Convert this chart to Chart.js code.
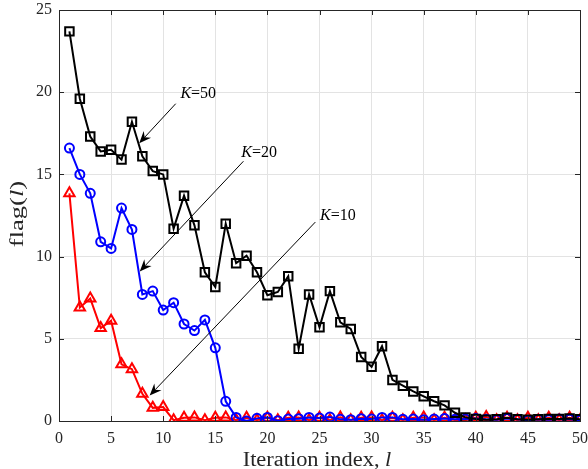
<!DOCTYPE html>
<html>
<head>
<meta charset="utf-8">
<script src="https://cdn.jsdelivr.net/npm/chart.js@4.4.1/dist/chart.umd.min.js"></script>
<style>
  html, body { margin: 0; padding: 0; background: #fff; }
  #wrap { width: 588px; height: 469px; }
</style>
</head>
<body>
<div id="wrap"><canvas id="flagChart"></canvas></div>
<script>
// Data
const iterations = Array.from({ length: 50 }, (_, i) => i + 1);

const flagK50 = [
    23.7, 19.6, 17.3, 16.4, 16.5, 15.9, 18.2, 16.1, 15.2, 15.0,
    11.7, 13.7, 11.9, 9.05, 8.15, 12.0, 9.6, 10.05, 9.05, 7.65,
    7.85, 8.8, 4.4, 7.7, 5.7, 7.9, 6.0, 5.6, 3.9, 3.3,
    4.55, 2.5, 2.15, 1.8, 1.5, 1.2, 0.95, 0.5, 0.22, 0.12,
    0.08, 0.1, 0.2, 0.1, 0.08, 0.1, 0.12, 0.12, 0.15, 0.1
];

const flagK20 = [
    16.6, 15.0, 13.85, 10.9, 10.5, 12.95, 11.65, 7.7, 7.9, 6.75,
    7.2, 5.9, 5.5, 6.15, 4.45, 1.2, 0.22, 0.0, 0.16, 0.22,
    0.02, 0.12, 0.14, 0.22, 0.18, 0.24, 0.1, 0.08, 0.14, 0.12,
    0.22, 0.22, 0.1, 0.12, 0.08, 0.12, 0.15, 0.1, 0.12, 0.15,
    0.1, 0.08, 0.15, 0.1, 0.05, 0.1, 0.08, 0.12, 0.1, 0.05
];

const flagK10 = [
    13.85, 6.9, 7.45, 5.65, 6.1, 3.45, 3.15, 1.65, 0.8, 0.85,
    0.05, 0.2, 0.22, 0.05, 0.2, 0.22, 0.05, 0.2, 0.05, 0.2,
    0.05, 0.2, 0.22, 0.05, 0.2, 0.05, 0.22, 0.05, 0.2, 0.22,
    0.05, 0.2, 0.05, 0.2, 0.22, 0.05, 0.2, 0.05, 0.05, 0.2,
    0.25, 0.05, 0.2, 0.05, 0.2, 0.05, 0.2, 0.05, 0.2, 0.05
];

const xTickValues = [0, 5, 10, 15, 20, 25, 30, 35, 40, 45, 50];
const yTickValues = [0, 5, 10, 15, 20, 25];

// Annotation labels: text anchor and arrow (tail -> tip) in data units
const noteLabels = ['50', '20', '10'];
const noteTextAt = [[11.65, 19.63], [17.5, 16.07], [25.05, 12.2]];
const noteArrowFrom = [[11.2, 19.3], [17.7, 15.8], [24.6, 12.1]];
const noteArrowTo = [[7.7, 16.9], [7.75, 9.1], [8.7, 1.55]];

const SERIF = '"Liberation Serif", "DejaVu Serif", serif';
const AXIS_COLOR = '#262626';

function toPoints(values) {
    return values.map((v, i) => ({ x: iterations[i], y: v }));
}

// draws mixed upright/italic pieces centred on (0,0), stretched along the text
function drawTitle(ctx, parts, size, stretch) {
    let total = 0;
    parts.forEach(p => { ctx.font = p[1] + size + 'px ' + SERIF; total += ctx.measureText(p[0]).width; });
    ctx.scale(stretch, 1);
    let x = -total / 2;
    parts.forEach(p => {
        ctx.font = p[1] + size + 'px ' + SERIF;
        ctx.fillText(p[0], x, 0);
        x += ctx.measureText(p[0]).width;
    });
}

// Draw frame, inward ticks, axis titles and arrow notes
const decorPlugin = {
    id: 'decor',
    afterDatasetsDraw(chart) {
        const ctx = chart.ctx;
        const area = chart.chartArea;
        const xs = chart.scales.x;
        const ys = chart.scales.y;
        const tick = 5;

        ctx.save();
        ctx.strokeStyle = AXIS_COLOR;
        ctx.lineWidth = 1;
        ctx.beginPath();
        xTickValues.forEach(v => {
            const px = Math.round(xs.getPixelForValue(v)) + 0.5;
            ctx.moveTo(px, area.bottom);
            ctx.lineTo(px, area.bottom - tick);
            ctx.moveTo(px, area.top);
            ctx.lineTo(px, area.top + tick);
        });
        yTickValues.forEach(v => {
            const py = Math.round(ys.getPixelForValue(v)) + 0.5;
            ctx.moveTo(area.left, py);
            ctx.lineTo(area.left + tick, py);
            ctx.moveTo(area.right, py);
            ctx.lineTo(area.right - tick, py);
        });
        ctx.stroke();
        ctx.strokeRect(Math.round(area.left) + 0.5, Math.round(area.top) + 0.5,
            Math.round(area.right - area.left), Math.round(area.bottom - area.top));

        // annotations
        ctx.fillStyle = '#000';
        ctx.strokeStyle = '#000';
        noteLabels.forEach((lab, i) => {
            const tx = xs.getPixelForValue(noteTextAt[i][0]);
            const ty = ys.getPixelForValue(noteTextAt[i][1]);
            ctx.textBaseline = 'alphabetic';
            ctx.textAlign = 'left';
            ctx.font = 'italic 16px ' + SERIF;
            ctx.fillText('K', tx, ty);
            let w = ctx.measureText('K').width;
            ctx.font = '16px ' + SERIF;
            ctx.fillText('=' + lab, tx + w, ty);

            const x0 = xs.getPixelForValue(noteArrowFrom[i][0]);
            const y0 = ys.getPixelForValue(noteArrowFrom[i][1]);
            const x1 = xs.getPixelForValue(noteArrowTo[i][0]);
            const y1 = ys.getPixelForValue(noteArrowTo[i][1]);
            const ang = Math.atan2(y1 - y0, x1 - x0);
            const len = 12, half = 5, back = 8;
            ctx.lineWidth = 1;
            ctx.beginPath();
            ctx.moveTo(x0, y0);
            ctx.lineTo(x1 - Math.cos(ang) * back, y1 - Math.sin(ang) * back);
            ctx.stroke();
            const bx = x1 - Math.cos(ang) * len;
            const by = y1 - Math.sin(ang) * len;
            ctx.beginPath();
            ctx.moveTo(x1, y1);
            ctx.lineTo(bx + Math.sin(ang) * half, by - Math.cos(ang) * half);
            ctx.lineTo(x1 - Math.cos(ang) * back, y1 - Math.sin(ang) * back);
            ctx.lineTo(bx - Math.sin(ang) * half, by + Math.cos(ang) * half);
            ctx.closePath();
            ctx.fill();
        });

        // axis titles
        ctx.fillStyle = AXIS_COLOR;
        ctx.textAlign = 'left';
        ctx.textBaseline = 'alphabetic';
        ctx.save();
        ctx.translate(317, 466);
        drawTitle(ctx, [['Iteration index, ', ''], ['l', 'italic ']], 20, 1.12);
        ctx.restore();

        ctx.save();
        ctx.textBaseline = 'middle';
        ctx.translate(18, 214);
        ctx.rotate(-Math.PI / 2);
        drawTitle(ctx, [['flag(', ''], ['l', 'italic '], [')', '']], 19, 1.4);
        ctx.restore();
        ctx.restore();
    }
};

function initializeChart() {
    const ctx = document.getElementById('flagChart').getContext('2d');
    new Chart(ctx, {
        type: 'line',
        data: {
            datasets: [
                {
                    label: 'K=50',
                    data: toPoints(flagK50),
                    borderColor: '#000000',
                    backgroundColor: 'rgba(0,0,0,0)',
                    borderWidth: 2,
                    pointStyle: 'rect',
                    pointRadius: 6,
                    pointBorderWidth: 2,
                    pointBorderColor: '#000000',
                    pointBackgroundColor: 'rgba(0,0,0,0)'
                },
                {
                    label: 'K=20',
                    data: toPoints(flagK20),
                    borderColor: '#0000ff',
                    backgroundColor: 'rgba(0,0,0,0)',
                    borderWidth: 2,
                    pointStyle: 'circle',
                    pointRadius: 4.5,
                    pointBorderWidth: 2,
                    pointBorderColor: '#0000ff',
                    pointBackgroundColor: 'rgba(0,0,0,0)'
                },
                {
                    label: 'K=10',
                    data: toPoints(flagK10),
                    borderColor: '#ff0000',
                    backgroundColor: 'rgba(0,0,0,0)',
                    borderWidth: 2,
                    pointStyle: 'triangle',
                    pointRadius: 6,
                    pointBorderWidth: 2,
                    pointBorderColor: '#ff0000',
                    pointBackgroundColor: 'rgba(0,0,0,0)'
                }
            ]
        },
        options: {
            responsive: true,
            maintainAspectRatio: false,
            animation: false,
            layout: { padding: { top: 10, right: 8, left: 0, bottom: 0 } },
            plugins: {
                legend: { display: false },
                tooltip: { enabled: false }
            },
            scales: {
                x: {
                    type: 'linear',
                    min: 0,
                    max: 50,
                    afterFit: s => {
                        s.height = 48;
                        s.paddingLeft = 0;
                        s.paddingRight = 0;
                    },
                    afterBuildTicks: s => { s.ticks = xTickValues.map(v => ({ value: v })); },
                    grid: { color: '#e3e3e3', drawTicks: false },
                    border: { display: false },
                    ticks: {
                        padding: 8,
                        color: AXIS_COLOR,
                        font: { family: SERIF, size: 16 },
                        maxRotation: 0
                    }
                },
                y: {
                    min: 0,
                    max: 25,
                    afterFit: s => {
                        s.width = 59;
                        s.paddingTop = 0;
                        s.paddingBottom = 0;
                    },
                    afterBuildTicks: s => { s.ticks = yTickValues.map(v => ({ value: v })); },
                    grid: { color: '#e3e3e3', drawTicks: false },
                    border: { display: false },
                    ticks: {
                        padding: 7,
                        color: AXIS_COLOR,
                        font: { family: SERIF, size: 16 }
                    }
                }
            }
        },
        plugins: [decorPlugin]
    });
}

document.addEventListener('DOMContentLoaded', initializeChart);
</script>
</body>
</html>
